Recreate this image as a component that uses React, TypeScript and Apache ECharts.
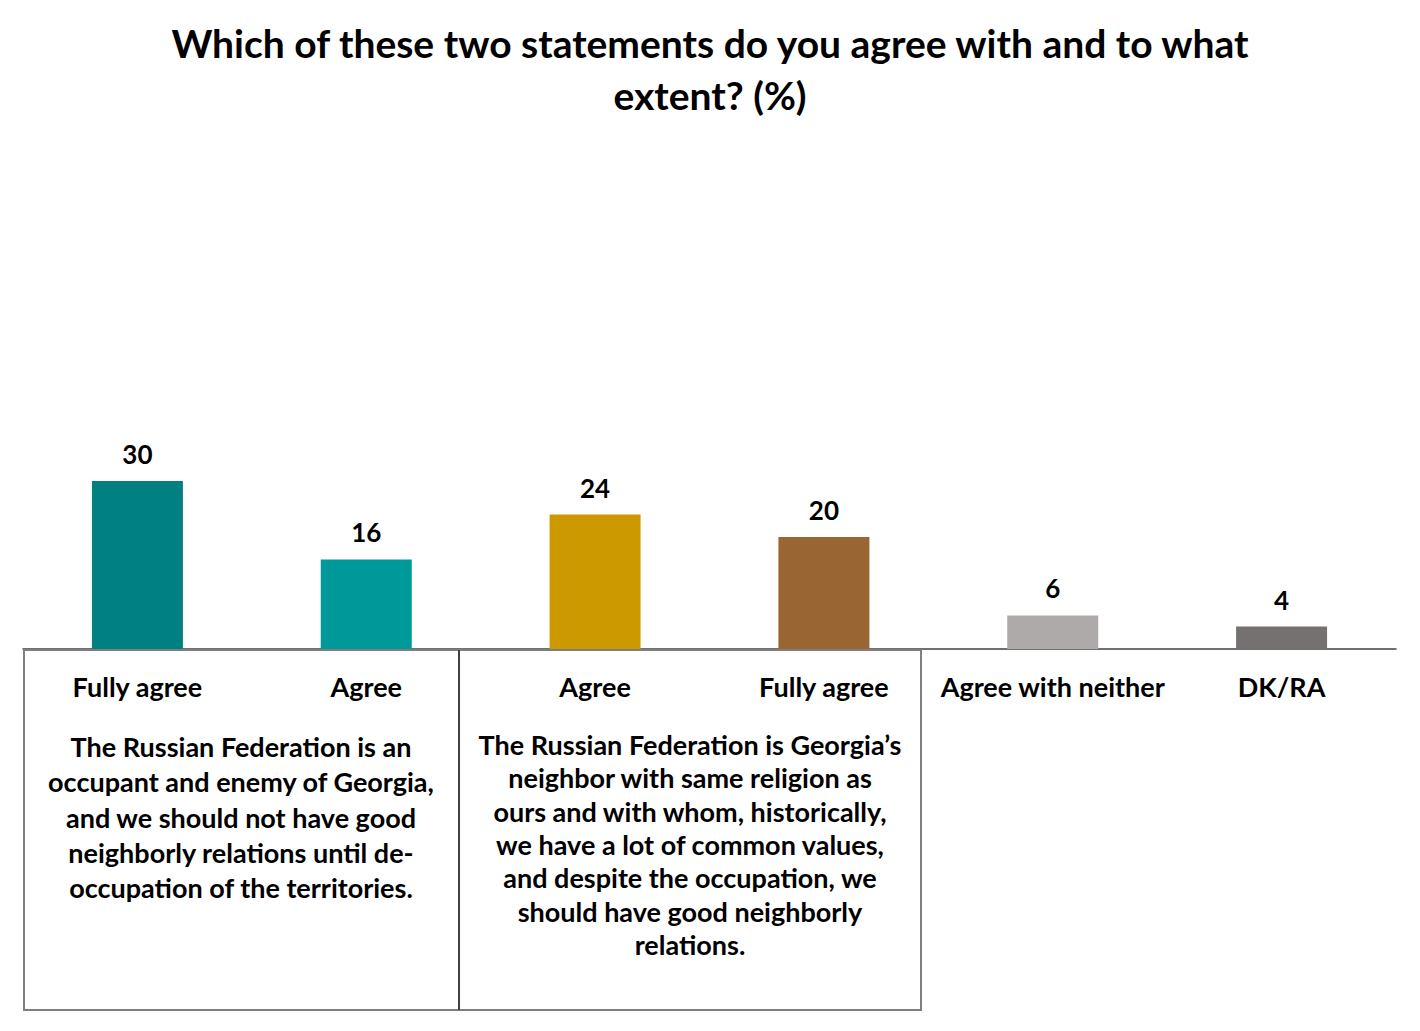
import React, { useEffect, useRef } from "react";
import * as echarts from "echarts";

const categories = ["Fully agree", "Agree", "Agree", "Fully agree", "Agree with neither", "DK/RA"];
const values = [30, 16, 24, 20, 6, 4];
const barColors = ["#008080", "#009999", "#CC9900", "#996633", "#AEAAAA", "#767171"];
const titleText = "Which of these two statements do you agree with and to what\nextent? (%)";
const leftStatement = [
  "The Russian Federation is an",
  "occupant and enemy of Georgia,",
  "and we should not have good",
  "neighborly relations until de-",
  "occupation of the territories.",
];
const middleStatement = [
  "The Russian Federation is Georgia\u2019s",
  "neighbor with same religion as",
  "ours and with whom, historically,",
  "we have a lot of common values,",
  "and despite the occupation, we",
  "should have good neighborly",
  "relations.",
];

const FONT = "Lato, 'Open Sans', 'Noto Sans', sans-serif";

export default function App() {
  const ref = useRef<HTMLDivElement>(null);
  useEffect(() => {
    document.body.style.margin = "0";
    if (!ref.current) return;
    const chart = echarts.init(ref.current, null, { renderer: "svg" });
    const option: any = {
      animation: false,
      backgroundColor: "#ffffff",
      title: {
        text: titleText,
        left: "center",
        top: 12,
        textStyle: {
          fontFamily: FONT,
          fontSize: 39,
          fontWeight: "bold",
          color: "#000000",
          lineHeight: 52,
          align: "center",
        },
      },
      grid: { left: 23, right: 24, top: 313, bottom: 1031 - 649, containLabel: false },
      xAxis: {
        type: "category",
        data: categories,
        axisLine: { show: true, lineStyle: { color: "#404040", width: 1.5 } },
        axisTick: { show: false },
        axisLabel: {
          interval: 0,
          margin: 24,
          fontFamily: FONT,
          fontSize: 27,
          fontWeight: "bold",
          color: "#000000",
        },
      },
      yAxis: {
        type: "value",
        min: 0,
        max: 60,
        show: false,
        splitLine: { show: false },
      },
      series: [
        {
          type: "bar",
          barWidth: 91,
          data: values.map((v, i) => ({ value: v, itemStyle: { color: barColors[i] } })),
          label: {
            show: true,
            position: "top",
            distance: 14,
            fontFamily: FONT,
            fontSize: 26,
            fontWeight: "bold",
            color: "#000000",
          },
        },
      ],
      graphic: [
        {
          type: "rect",
          shape: { x: 24, y: 650, width: 435, height: 360 },
          style: { fill: "none", stroke: "#7F7F7F", lineWidth: 2 },
          z: 10,
        },
        {
          type: "rect",
          shape: { x: 459, y: 650, width: 462, height: 360 },
          style: { fill: "none", stroke: "#7F7F7F", lineWidth: 2 },
          z: 10,
        },
        {
          type: "line",
          shape: { x1: 459, y1: 650, x2: 459, y2: 1010 },
          style: { stroke: "#404040", lineWidth: 2 },
          z: 11,
        },
        {
          type: "text",
          x: 241,
          y: 729,
          z: 12,
          style: {
            text: leftStatement.join("\n"),
            align: "center",
            verticalAlign: "top",
            fontFamily: FONT,
            fontSize: 27,
            fontWeight: "bold",
            lineHeight: 35.3,
            fill: "#000000",
          },
        },
        {
          type: "text",
          x: 690,
          y: 728,
          z: 12,
          style: {
            text: middleStatement.join("\n"),
            align: "center",
            verticalAlign: "top",
            fontFamily: FONT,
            fontSize: 27,
            fontWeight: "bold",
            lineHeight: 33.3,
            fill: "#000000",
          },
        },
      ],
    };
    chart.setOption(option);
    return () => chart.dispose();
  }, []);
  return <div ref={ref} style={{ width: 1420, height: 1031 }} />;
}
